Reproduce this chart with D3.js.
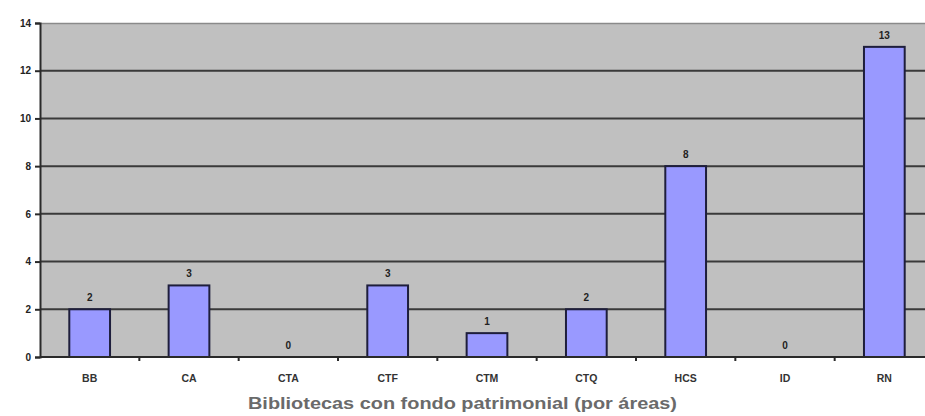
<!DOCTYPE html>
<html><head><meta charset="utf-8">
<script src="https://cdn.jsdelivr.net/npm/d3@7"></script>
<style>body{margin:0;background:#fff;}svg{display:block;}</style>
</head><body>
<svg id="c" width="925" height="416"></svg>
<script>
const categories = ["BB","CA","CTA","CTF","CTM","CTQ","HCS","ID","RN"];
const values = [2,3,0,3,1,2,8,0,13];
const yTicks = [0,2,4,6,8,10,12,14];
const title = "Bibliotecas con fondo patrimonial (por áreas)";

(function(){
const svg = d3.select("#c");
const pL = 40, pR = 934, pT = 23, pB = 357;
const x = d3.scaleBand().domain(categories).range([pL, pR]).paddingInner(0.59).paddingOuter(0.295);
const xb = d3.scaleBand().domain(categories).range([pL, pR]).padding(0);
const y = d3.scaleLinear().domain([0,14]).range([pB, pT]);

svg.append("rect").attr("x", pL).attr("y", pT).attr("width", pR-pL).attr("height", pB-pT).attr("fill", "#c0c0c0");
svg.append("line").attr("x1", pL).attr("x2", pR).attr("y1", pT+0.5).attr("y2", pT+0.5).attr("stroke","#8a8a8a").attr("stroke-width",1.5);

svg.append("g").selectAll("line").data(yTicks.filter(d=>d>0 && d<14)).join("line")
  .attr("x1", pL).attr("x2", pR).attr("y1", d=>y(d)).attr("y2", d=>y(d))
  .attr("stroke","#3a3a3a").attr("stroke-width",2);

const yAxis = svg.append("g").attr("transform", `translate(${pL},0)`)
  .call(d3.axisLeft(y).tickValues(yTicks).tickSize(5).tickPadding(4));
yAxis.select(".domain").attr("stroke","#2a2a2a").attr("stroke-width",2);
yAxis.selectAll(".tick line").attr("stroke","#2a2a2a").attr("stroke-width",2);
yAxis.selectAll("text").attr("font-family","Liberation Sans, Arial, sans-serif").attr("font-weight","bold").attr("font-size",10).attr("fill","#222");

svg.append("g").selectAll("rect").data(values).join("rect")
  .attr("x", (d,i)=>x(categories[i])).attr("width", x.bandwidth())
  .attr("y", d=>y(d)).attr("height", d=>pB - y(d))
  .attr("fill","#9999ff").attr("stroke","#1e1e3c").attr("stroke-width",2);

const xAxis = svg.append("g").attr("transform", `translate(0,${pB})`)
  .call(d3.axisBottom(xb).tickSize(0).tickPadding(18));
xAxis.select(".domain").remove();
xAxis.selectAll("text").attr("font-family","Liberation Sans, Arial, sans-serif").attr("font-weight","bold").attr("font-size",10.5).attr("fill","#333");
svg.append("line").attr("x1", pL).attr("x2", pR).attr("y1", pB).attr("y2", pB).attr("stroke","#2a2a2a").attr("stroke-width",2);
svg.append("g").selectAll("line").data(categories.slice(1)).join("line")
  .attr("x1", d=>xb(d)).attr("x2", d=>xb(d)).attr("y1", pB).attr("y2", pB+4)
  .attr("stroke","#2a2a2a").attr("stroke-width",2);

svg.append("g").selectAll("text").data(values).join("text")
  .attr("x", (d,i)=>x(categories[i]) + x.bandwidth()/2).attr("y", d=>y(d)-8)
  .attr("text-anchor","middle").attr("font-family","Liberation Sans, Arial, sans-serif")
  .attr("font-weight","bold").attr("font-size",10).attr("fill","#222").text(d=>d);

svg.append("text").attr("x", 462.5).attr("y", 409).attr("text-anchor","middle")
  .attr("font-family","Liberation Sans, Arial, sans-serif").attr("font-weight","bold").attr("font-size",16.5)
  .attr("textLength", 429).attr("lengthAdjust","spacingAndGlyphs")
  .attr("fill","#6a6a6a").text(title);
})();
</script>
</body></html>
